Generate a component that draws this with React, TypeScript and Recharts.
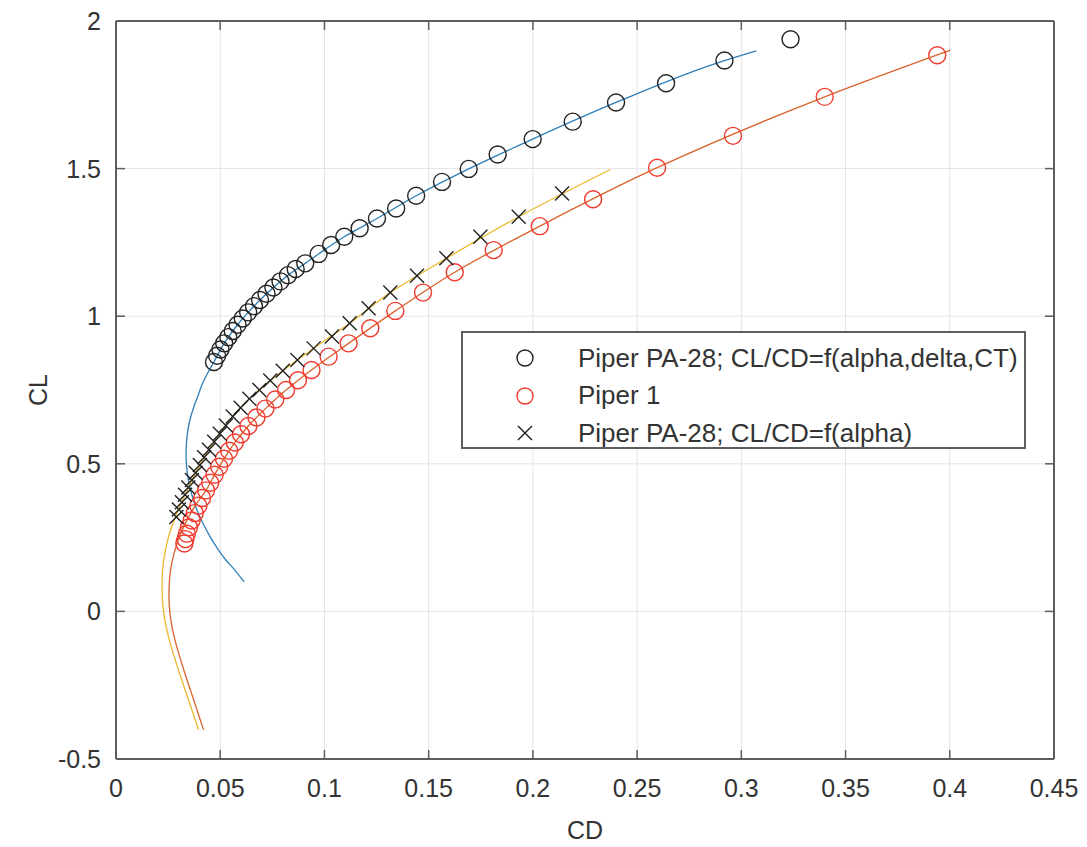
import {
  CartesianGrid,
  Label,
  Legend,
  ReferenceLine,
  Scatter,
  ScatterChart,
  XAxis,
  YAxis,
} from "recharts";

// --- axis ticks -------------------------------------------------------------
const xTicks = [0, 0.05, 0.1, 0.15, 0.2, 0.25, 0.3, 0.35, 0.4, 0.45];
const yTicks = [-0.5, 0, 0.5, 1, 1.5, 2];

// --- Piper PA-28; CL/CD=f(alpha,delta,CT)  (black circles) ------------------
const paDeltaCD = [
  0.047, 0.0485, 0.0501, 0.0519, 0.0539, 0.056, 0.0583, 0.0608, 0.0634, 0.0662,
  0.0691, 0.0722, 0.0755, 0.0789, 0.0825, 0.0862, 0.0908, 0.0972, 0.1032,
  0.1095, 0.1169, 0.1252, 0.1344, 0.144, 0.1564, 0.1692, 0.1831, 0.1999,
  0.2191, 0.2399, 0.2639, 0.2919, 0.3236,
];
const paDeltaCL = [
  0.845, 0.866, 0.887, 0.908, 0.929, 0.95, 0.971, 0.992, 1.013, 1.034, 1.055,
  1.076, 1.097, 1.118, 1.139, 1.16, 1.179, 1.211, 1.241, 1.269, 1.298, 1.331,
  1.365, 1.408, 1.455, 1.499, 1.548, 1.6, 1.659, 1.724, 1.789, 1.866, 1.938,
];

// fitted polar drawn in blue
const fitDeltaCD = [
  0.0615, 0.057, 0.0526, 0.0488, 0.0454, 0.0423, 0.0396, 0.0375, 0.0358,
  0.0346, 0.0339, 0.0336, 0.0338, 0.0344, 0.0355, 0.0372, 0.0393, 0.0414,
  0.0442, 0.047, 0.0501, 0.0539, 0.0583, 0.0634, 0.0691, 0.0755, 0.0825,
  0.0908, 0.0972, 0.1095, 0.1252, 0.144, 0.1692, 0.1999, 0.2399, 0.2919,
  0.3072,
];
const fitDeltaCL = [
  0.1, 0.14, 0.175, 0.212, 0.25, 0.29, 0.33, 0.37, 0.41, 0.45, 0.49, 0.53,
  0.57, 0.61, 0.65, 0.69, 0.73, 0.77, 0.81, 0.845, 0.887, 0.929, 0.971, 1.013,
  1.055, 1.097, 1.139, 1.179, 1.211, 1.269, 1.331, 1.408, 1.499, 1.6, 1.724,
  1.866, 1.899,
];

// --- Piper 1 (red circles) --------------------------------------------------
const piper1CD = [
  0.0328, 0.0333, 0.034, 0.035, 0.0363, 0.0378, 0.0395, 0.0413, 0.0432,
  0.0452, 0.0473, 0.0495, 0.0518, 0.0543, 0.057, 0.06, 0.0635, 0.0674, 0.0717,
  0.0764, 0.0816, 0.0873, 0.0938, 0.102, 0.1116, 0.122, 0.134, 0.1473, 0.1625,
  0.1812, 0.2033, 0.2289, 0.2596, 0.296, 0.34, 0.394,
];
const piper1CL = [
  0.23, 0.245, 0.263, 0.285, 0.308, 0.333, 0.358, 0.384, 0.41, 0.436, 0.463,
  0.49, 0.517, 0.544, 0.572, 0.6, 0.628, 0.657, 0.687, 0.718, 0.75, 0.783,
  0.818, 0.863, 0.908, 0.959, 1.018, 1.08, 1.149, 1.224, 1.305, 1.396, 1.503,
  1.611, 1.743, 1.884,
];

// fitted polar drawn in orange
const fitPiper1CD = [
  0.042, 0.0396, 0.0373, 0.0349, 0.0326, 0.0304, 0.0284, 0.0268, 0.0258,
  0.0254, 0.0256, 0.0264, 0.028, 0.0303, 0.0334, 0.038, 0.0432, 0.0473,
  0.0518, 0.057, 0.0635, 0.0717, 0.0816, 0.0938, 0.1116, 0.134, 0.1625,
  0.2033, 0.2596, 0.34, 0.4003,
];
const fitPiper1CL = [
  -0.401, -0.35, -0.3, -0.25, -0.2, -0.15, -0.1, -0.05, 0, 0.05, 0.1, 0.15,
  0.2, 0.25, 0.3, 0.358, 0.41, 0.463, 0.517, 0.572, 0.628, 0.687, 0.75, 0.818,
  0.908, 1.018, 1.149, 1.305, 1.503, 1.743, 1.901,
];

// --- Piper PA-28; CL/CD=f(alpha)  (black crosses) ---------------------------
const paAlphaCD = [
  0.029, 0.0302, 0.0316, 0.0331, 0.0347, 0.0364, 0.0382, 0.0402, 0.0423,
  0.0446, 0.0471, 0.0498, 0.0527, 0.056, 0.0598, 0.064, 0.0688, 0.074, 0.08,
  0.087, 0.0948, 0.1036, 0.1121, 0.1212, 0.1316, 0.1444, 0.1585, 0.1748,
  0.1932, 0.214,
];
const paAlphaCL = [
  0.32, 0.345, 0.37, 0.395, 0.42, 0.445, 0.47, 0.496, 0.522, 0.548, 0.575,
  0.602, 0.63, 0.66, 0.69, 0.72, 0.75, 0.782, 0.815, 0.852, 0.891, 0.931,
  0.976, 1.027, 1.08, 1.137, 1.196, 1.269, 1.337, 1.416,
];

// fitted polar drawn in yellow
const fitAlphaCD = [
  0.0396, 0.0372, 0.0348, 0.0324, 0.03, 0.0278, 0.0257, 0.024, 0.0228,
  0.0222, 0.0221, 0.0225, 0.0235, 0.0251, 0.0269, 0.029, 0.0331, 0.0382,
  0.0446, 0.0527, 0.064, 0.08, 0.0948, 0.1121, 0.1316, 0.1585, 0.1932, 0.2372,
];
const fitAlphaCL = [
  -0.401, -0.35, -0.3, -0.25, -0.2, -0.15, -0.1, -0.05, 0, 0.05, 0.1, 0.15,
  0.2, 0.25, 0.29, 0.33, 0.395, 0.47, 0.548, 0.63, 0.72, 0.815, 0.891, 0.976,
  1.08, 1.196, 1.337, 1.497,
];

const legendNames = [
  "Piper PA-28; CL/CD=f(alpha,delta,CT)",
  "Piper 1",
  "Piper PA-28; CL/CD=f(alpha)",
];

const zip = (cd: number[], cl: number[]) => cd.map((v, i) => ({ cd: v, cl: cl[i] }));

const FONT = "'Liberation Sans', Arial, Helvetica, sans-serif";
const TEXT = "#333";
const AXIS = "#5e5e5e";
const BLUE = "#2c7fb8";
const ORANGE = "#d9622b";
const YELLOW = "#ecb92e";
const RED = "#f03a2e";
const FS = 25;
const TICK_LEN = 9;

const NoMarker = () => <g />;

const circleShape = (color: string) => (p: any) =>
  <circle cx={p.cx} cy={p.cy} r={8.5} fill="none" stroke={color} strokeWidth={1.4} />;

const CrossShape = (p: any) => (
  <g stroke="#222" strokeWidth={1.4}>
    <line x1={p.cx - 7} y1={p.cy - 7} x2={p.cx + 7} y2={p.cy + 7} />
    <line x1={p.cx - 7} y1={p.cy + 7} x2={p.cx + 7} y2={p.cy - 7} />
  </g>
);

function BottomTick({ x, y, payload }: any) {
  return (
    <g>
      <line x1={x} x2={x} y1={y} y2={y - TICK_LEN} stroke={AXIS} strokeWidth={1.5} />
      <text x={x} y={y + 38} textAnchor="middle" fill={TEXT} fontSize={FS} fontFamily={FONT}>
        {String(payload.value)}
      </text>
    </g>
  );
}

function LeftTick({ x, y, payload }: any) {
  return (
    <g>
      <line x1={x} x2={x + TICK_LEN} y1={y} y2={y} stroke={AXIS} strokeWidth={1.5} />
      <text x={x - 15} y={y + 9} textAnchor="end" fill={TEXT} fontSize={FS} fontFamily={FONT}>
        {String(payload.value)}
      </text>
    </g>
  );
}

// inward tick on the top edge, drawn from a vertical reference line's viewBox
function TopTickMark({ viewBox }: any) {
  if (!viewBox) return null;
  return <line x1={viewBox.x} x2={viewBox.x} y1={viewBox.y} y2={viewBox.y + TICK_LEN} stroke={AXIS} strokeWidth={1.5} />;
}

// inward tick on the right edge, drawn from a horizontal reference line's viewBox
function RightTickMark({ viewBox }: any) {
  if (!viewBox) return null;
  const xr = viewBox.x + viewBox.width;
  return <line x1={xr} x2={xr - TICK_LEN} y1={viewBox.y} y2={viewBox.y} stroke={AXIS} strokeWidth={1.5} />;
}

function XTitle({ viewBox }: any) {
  return (
    <text x={viewBox.x + viewBox.width / 2} y={viewBox.y + 80} textAnchor="middle" fill={TEXT} fontSize={FS} fontFamily={FONT}>
      CD
    </text>
  );
}

function YTitle({ viewBox }: any) {
  const cx = viewBox.x + 38;
  const cy = viewBox.y + viewBox.height / 2;
  return (
    <text x={cx} y={cy + 9} transform={`rotate(-90 ${cx} ${cy})`} textAnchor="middle" fill={TEXT} fontSize={FS} fontFamily={FONT}>
      CL
    </text>
  );
}

function LegendBox({ payload }: any) {
  const items = legendNames
    .map((n) => (payload || []).find((p: any) => p.value === n))
    .filter(Boolean);
  return (
    <div
      style={{
        position: "relative",
        width: 565,
        height: 118,
        boxSizing: "border-box",
        border: `2px solid ${AXIS}`,
        background: "#fff",
        fontFamily: FONT,
        fontSize: 26,
        color: TEXT,
      }}
    >
      {items.map((it: any, i: number) => {
        const cross = it.value === legendNames[2];
        const stroke = it.value === "Piper 1" ? RED : "#222";
        return (
          <div
            key={it.value}
            style={{ position: "absolute", left: 0, top: 7 + i * 37.5, height: 36, display: "flex", alignItems: "center", whiteSpace: "nowrap" }}
          >
            <svg width={20} height={20} style={{ marginLeft: 52, marginRight: 43 }}>
              {cross ? (
                <g stroke="#222" strokeWidth={1.4}>
                  <line x1={3} y1={3} x2={17} y2={17} />
                  <line x1={3} y1={17} x2={17} y2={3} />
                </g>
              ) : (
                <circle cx={10} cy={10} r={8} fill="none" stroke={stroke} strokeWidth={1.4} />
              )}
            </svg>
            <span>{it.value}</span>
          </div>
        );
      })}
    </div>
  );
}

export default function App() {
  return (
    <div style={{ position: "absolute", left: 0, top: 0, background: "#fff" }}>
      <ScatterChart width={1087} height={847} margin={{ top: 21, right: 33, bottom: 0, left: 0 }}>
        <CartesianGrid stroke="#e4e4e4" strokeWidth={1} horizontal vertical />
        <XAxis
          type="number"
          dataKey="cd"
          domain={[0, 0.45]}
          ticks={xTicks}
          height={88}
          tickSize={0}
          tickMargin={0}
          tickLine={false}
          tick={<BottomTick />}
          axisLine={{ stroke: AXIS, strokeWidth: 2 }}
          allowDataOverflow
        >
          <Label content={<XTitle />} />
        </XAxis>
        <YAxis
          type="number"
          dataKey="cl"
          domain={[-0.5, 2]}
          ticks={yTicks}
          width={116}
          tickSize={0}
          tickMargin={0}
          tickLine={false}
          tick={<LeftTick />}
          axisLine={{ stroke: AXIS, strokeWidth: 2 }}
          allowDataOverflow
        >
          <Label content={<YTitle />} />
        </YAxis>

        {/* top and right frame with inward ticks */}
        {xTicks.map((t) => (
          <ReferenceLine key={`tx${t}`} x={t} stroke="none" ifOverflow="visible" label={<TopTickMark />} />
        ))}
        {yTicks.map((t) => (
          <ReferenceLine key={`ty${t}`} y={t} stroke="none" ifOverflow="visible" label={<RightTickMark />} />
        ))}
        <ReferenceLine y={2} stroke={AXIS} strokeWidth={2} ifOverflow="visible" />
        <ReferenceLine x={0.45} stroke={AXIS} strokeWidth={2} ifOverflow="visible" />

        <Scatter
          name="fit alpha,delta,CT"
          data={zip(fitDeltaCD, fitDeltaCL)}
          line={{ stroke: BLUE, strokeWidth: 1.3 }}
          lineJointType="monotoneY"
          shape={NoMarker}
          legendType="none"
          isAnimationActive={false}
        />
        <Scatter
          name="fit Piper 1"
          data={zip(fitPiper1CD, fitPiper1CL)}
          line={{ stroke: ORANGE, strokeWidth: 1.3 }}
          lineJointType="monotoneY"
          shape={NoMarker}
          legendType="none"
          isAnimationActive={false}
        />
        <Scatter
          name="fit alpha"
          data={zip(fitAlphaCD, fitAlphaCL)}
          line={{ stroke: YELLOW, strokeWidth: 1.3 }}
          lineJointType="monotoneY"
          shape={NoMarker}
          legendType="none"
          isAnimationActive={false}
        />

        <Scatter
          name={legendNames[0]}
          data={zip(paDeltaCD, paDeltaCL)}
          fill="#222"
          shape={circleShape("#222")}
          isAnimationActive={false}
        />
        <Scatter
          name={legendNames[1]}
          data={zip(piper1CD, piper1CL)}
          fill={RED}
          shape={circleShape(RED)}
          isAnimationActive={false}
        />
        <Scatter
          name={legendNames[2]}
          data={zip(paAlphaCD, paAlphaCL)}
          fill="#222"
          shape={CrossShape}
          isAnimationActive={false}
        />

        <Legend
          layout="vertical"
          align="center"
          verticalAlign="middle"
          content={<LegendBox />}
          wrapperStyle={{ left: 461, top: 331, width: 565, height: 118 }}
        />
      </ScatterChart>
    </div>
  );
}
